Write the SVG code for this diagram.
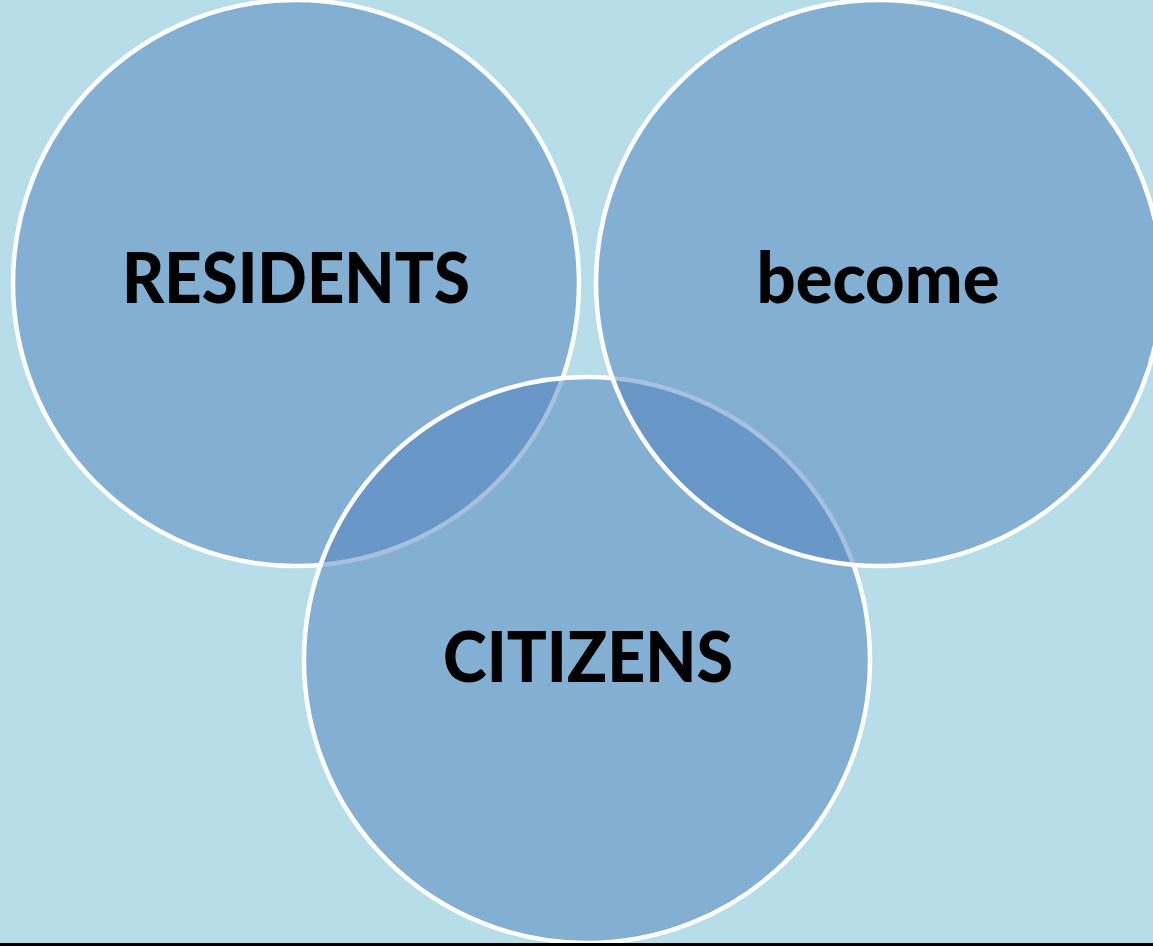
<svg xmlns="http://www.w3.org/2000/svg" width="1153" height="946" viewBox="0 0 1153 946">
<style>
.c{fill:rgba(79,129,189,0.5);stroke:#ffffff;stroke-width:4.5}
.t{font-family:Lato,"DejaVu Sans",sans-serif;font-weight:900;font-size:70px;fill:#000;text-anchor:middle}
</style>
<rect width="1153" height="946" fill="#b6dde8"/>
<g id="residents">
<circle class="c" cx="296" cy="283" r="283"/>
<text class="t" x="296" y="303" textLength="348" lengthAdjust="spacingAndGlyphs">RESIDENTS</text>
</g>
<g id="citizens">
<circle class="c" cx="587" cy="660" r="283"/>
<text class="t" x="588" y="682" textLength="290" lengthAdjust="spacingAndGlyphs">CITIZENS</text>
</g>
<g id="become">
<circle class="c" cx="879" cy="283" r="283"/>
<text class="t" x="878" y="303" textLength="243" lengthAdjust="spacingAndGlyphs">become</text>
</g>
<g id="connectors"></g>
<rect x="0" y="943" width="1153" height="3" fill="#000"/>
</svg>
